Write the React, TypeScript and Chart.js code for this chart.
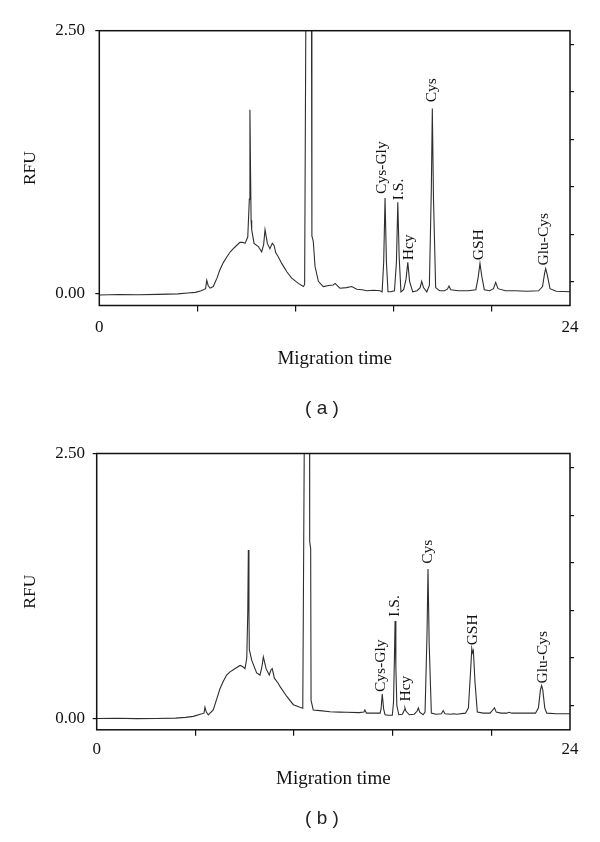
import React, { useEffect, useRef } from 'react';
import { Chart, registerables } from 'chart.js';

Chart.register(...registerables);

// ---------- Data ----------
const timeA = [0, 1.0, 2.0, 3.0, 4.0, 4.5, 4.9, 5.2, 5.42, 5.48, 5.55, 5.65, 5.81, 6.0, 6.15, 6.33, 6.5, 6.68, 6.83, 7.0, 7.17, 7.3, 7.43, 7.57, 7.65, 7.68, 7.71, 7.74, 7.77, 7.89, 8.11, 8.28, 8.38, 8.45, 8.57, 8.7, 8.82, 8.91, 9.0, 9.13, 9.3, 9.56, 9.81, 10.15, 10.41, 10.47, 10.55, 10.81, 10.84, 10.91, 11.0, 11.17, 11.42, 11.7, 11.93, 12.02, 12.27, 12.6, 12.87, 13.13, 13.4, 13.63, 14.0, 14.31, 14.42, 14.5, 14.57, 14.64, 14.72, 14.85, 15.05, 15.15, 15.22, 15.29, 15.38, 15.52, 15.64, 15.73, 15.82, 15.98, 16.2, 16.36, 16.44, 16.53, 16.7, 16.83, 16.93, 16.98, 17.04, 17.15, 17.35, 17.6, 17.75, 17.83, 17.92, 18.3, 18.8, 19.2, 19.32, 19.41, 19.5, 19.63, 19.9, 20.1, 20.21, 20.33, 20.7, 21.2, 21.8, 22.4, 22.6, 22.7, 22.76, 22.83, 22.98, 23.3, 24.0];
const rfuA = [-0.01, -0.005, -0.008, -0.004, 0.0, 0.008, 0.015, 0.03, 0.05, 0.13, 0.08, 0.055, 0.07, 0.15, 0.23, 0.30, 0.35, 0.40, 0.43, 0.46, 0.49, 0.49, 0.48, 0.54, 0.9, 1.75, 1.2, 0.7, 0.61, 0.48, 0.45, 0.40, 0.47, 0.61, 0.48, 0.43, 0.48, 0.46, 0.39, 0.35, 0.29, 0.21, 0.15, 0.10, 0.07, 0.09, 3.4, 3.4, 0.55, 0.50, 0.26, 0.12, 0.07, 0.08, 0.085, 0.10, 0.054, 0.06, 0.07, 0.045, 0.04, 0.03, 0.035, 0.03, 0.02, 0.3, 0.91, 0.3, 0.02, 0.02, 0.03, 0.3, 0.87, 0.35, 0.02, 0.04, 0.14, 0.30, 0.12, 0.02, 0.03, 0.06, 0.12, 0.06, 0.02, 0.08, 1.0, 1.76, 0.9, 0.06, 0.03, 0.03, 0.045, 0.076, 0.04, 0.03, 0.03, 0.04, 0.16, 0.29, 0.17, 0.04, 0.03, 0.05, 0.11, 0.05, 0.03, 0.03, 0.025, 0.03, 0.07, 0.19, 0.24, 0.19, 0.05, 0.025, 0.02];

const timeB = [0, 1.0, 2.0, 3.0, 4.0, 4.5, 4.9, 5.25, 5.44, 5.49, 5.56, 5.66, 5.91, 6.08, 6.25, 6.42, 6.59, 6.76, 6.93, 7.1, 7.27, 7.4, 7.52, 7.61, 7.66, 7.69, 7.72, 7.74, 7.86, 8.11, 8.28, 8.37, 8.45, 8.59, 8.75, 8.84, 8.9, 9.01, 9.21, 9.3, 9.63, 9.97, 10.31, 10.45, 10.55, 10.79, 10.8, 10.85, 10.87, 10.98, 11.32, 11.83, 12.3, 12.68, 13.3, 13.55, 13.6, 13.68, 13.86, 14.2, 14.37, 14.42, 14.48, 14.55, 14.62, 14.8, 14.99, 15.05, 15.1, 15.13, 15.17, 15.22, 15.32, 15.5, 15.6, 15.63, 15.68, 15.85, 16.1, 16.25, 16.31, 16.38, 16.55, 16.65, 16.75, 16.8, 16.86, 16.97, 17.2, 17.48, 17.57, 17.66, 17.95, 18.09, 18.25, 18.7, 18.85, 18.96, 19.02, 19.06, 19.1, 19.18, 19.3, 19.6, 19.95, 20.08, 20.17, 20.26, 20.5, 20.8, 20.91, 21.05, 21.6, 22.25, 22.4, 22.5, 22.56, 22.62, 22.72, 22.82, 23.3, 24.0];
const rfuB = [0.0, 0.002, -0.002, 0.0, 0.003, 0.01, 0.02, 0.04, 0.05, 0.105, 0.06, 0.033, 0.08, 0.18, 0.28, 0.35, 0.41, 0.44, 0.46, 0.48, 0.50, 0.49, 0.47, 0.57, 1.0, 1.59, 1.0, 0.65, 0.55, 0.43, 0.41, 0.48, 0.58, 0.47, 0.41, 0.46, 0.47, 0.38, 0.33, 0.30, 0.21, 0.13, 0.105, 0.096, 3.4, 3.4, 1.67, 1.6, 0.17, 0.08, 0.074, 0.064, 0.06, 0.058, 0.055, 0.06, 0.08, 0.05, 0.05, 0.05, 0.05, 0.09, 0.23, 0.09, 0.035, 0.03, 0.03, 0.15, 0.6, 0.92, 0.48, 0.12, 0.035, 0.04, 0.08, 0.10, 0.07, 0.035, 0.04, 0.07, 0.10, 0.06, 0.035, 0.06, 0.8, 1.41, 0.7, 0.05, 0.04, 0.045, 0.075, 0.045, 0.04, 0.045, 0.04, 0.05, 0.1, 0.45, 0.66, 0.62, 0.64, 0.35, 0.06, 0.05, 0.05, 0.08, 0.10, 0.06, 0.05, 0.05, 0.058, 0.05, 0.05, 0.05, 0.1, 0.27, 0.31, 0.27, 0.1, 0.05, 0.045, 0.045];

const peakNames = ['Cys-Gly', 'I.S.', 'Hcy', 'Cys', 'GSH', 'Glu-Cys'];
const peakLabelXA = [14.43, 15.26, 15.79, 16.94, 19.36, 22.68];
const peakLabelYA = [0.95, 0.89, 0.32, 1.82, 0.32, 0.27];
const peakLabelXB = [14.42, 15.1, 15.66, 16.8, 19.08, 22.63];
const peakLabelYB = [0.25, 0.96, 0.16, 1.46, 0.69, 0.33];

const xTickValues = [0, 5, 10, 15, 20, 24];
const xLabelValues = [0, 24];
const yTickValues = [0, 2.5];
const rightTickValues = [0, 1, 2, 3, 4, 5];

const SERIF = '"Liberation Serif", "Times New Roman", serif';
const SANS = '"Liberation Sans", Arial, sans-serif';
const INK = '#111';

function makeLabelPlugin(names: string[], xs: number[], ys: number[]) {
  return {
    id: 'peakLabels',
    afterDatasetsDraw(chart: any) {
      const { ctx, scales } = chart;
      ctx.save();
      ctx.fillStyle = INK;
      ctx.font = `15.5px ${SERIF}`;
      ctx.textAlign = 'left';
      ctx.textBaseline = 'middle';
      names.forEach((n, i) => {
        const px = scales.x.getPixelForValue(xs[i]);
        const py = scales.y.getPixelForValue(ys[i]);
        ctx.save();
        ctx.translate(px, py);
        ctx.rotate(-Math.PI / 2);
        ctx.fillText(n, 0, 0);
        ctx.restore();
      });
      ctx.restore();
    },
  };
}

const framePlugin = {
  id: 'frame',
  afterDraw(chart: any) {
    const { ctx, chartArea: a } = chart;
    ctx.save();
    ctx.strokeStyle = INK;
    ctx.lineWidth = 1.5;
    ctx.strokeRect(a.left, a.top, a.right - a.left, a.bottom - a.top);
    ctx.restore();
  },
};

type PanelProps = {
  top: number;
  h: number;
  time: number[];
  rfu: number[];
  lx: number[];
  ly: number[];
  padTop: number;
  padBottom: number;
  leftW: number;
  xAxisH: number;
  xPad: number;
  yPad: number;
  yMin: number;
  y2Min: number;
  y2Max: number;
};

function Panel(p: PanelProps) {
  const ref = useRef<HTMLCanvasElement>(null);
  useEffect(() => {
    const chart = new Chart(ref.current as HTMLCanvasElement, {
      type: 'line',
      data: {
        datasets: [
          {
            data: p.time.map((t, i) => ({ x: t, y: p.rfu[i] })),
            borderColor: '#2e2e2e',
            borderWidth: 1.1,
            pointRadius: 0,
            tension: 0,
            fill: false,
            yAxisID: 'y',
            xAxisID: 'x',
          },
        ],
      },
      options: {
        animation: false,
        responsive: false,
        devicePixelRatio: 1,
        events: [],
        layout: { padding: { top: p.padTop, bottom: p.padBottom, left: 0, right: 0 } },
        plugins: { legend: { display: false }, tooltip: { enabled: false }, title: { display: false } },
        scales: {
          x: {
            type: 'linear',
            position: 'bottom',
            min: 0,
            max: 24,
            afterBuildTicks: (s: any) => {
              s.ticks = xTickValues.map((v) => ({ value: v }));
            },
            afterFit: (s: any) => {
              s.height = p.xAxisH;
            },
            ticks: {
              autoSkip: false,
              maxRotation: 0,
              padding: p.xPad,
              color: INK,
              font: { family: SERIF, size: 17 },
              callback: (v: any) => (xLabelValues.includes(Number(v)) ? String(v) : ''),
            },
            grid: {
              drawOnChartArea: false,
              drawTicks: true,
              tickLength: 6,
              lineWidth: 1.2,
              color: (c: any) => (c.tick && xLabelValues.includes(c.tick.value) ? 'rgba(0,0,0,0)' : INK),
            },
            border: { display: false },
            title: {
              display: true,
              text: 'Migration time',
              color: INK,
              font: { family: SERIF, size: 19 },
              padding: { top: 0, bottom: 0 },
            },
          },
          y: {
            type: 'linear',
            position: 'left',
            min: p.yMin,
            max: 2.5,
            afterBuildTicks: (s: any) => {
              s.ticks = yTickValues.map((v) => ({ value: v }));
            },
            afterFit: (s: any) => {
              s.width = p.leftW;
            },
            ticks: {
              padding: p.yPad,
              color: INK,
              font: { family: SERIF, size: 17 },
              callback: (v: any) => Number(v).toFixed(2),
            },
            grid: { drawOnChartArea: false, drawTicks: true, tickLength: 4, lineWidth: 1.2, color: INK },
            border: { display: false },
            title: {
              display: true,
              text: 'RFU',
              color: INK,
              font: { family: SERIF, size: 17.5 },
              padding: { top: 20.1, bottom: 0 },
            },
          },
          y2: {
            type: 'linear',
            position: 'right',
            min: p.y2Min,
            max: p.y2Max,
            afterBuildTicks: (s: any) => {
              s.ticks = rightTickValues.map((v) => ({ value: v }));
            },
            afterFit: (s: any) => {
              s.width = 30;
            },
            ticks: { display: false },
            grid: { drawOnChartArea: false, drawTicks: true, tickLength: 4, lineWidth: 1.2, color: INK },
            border: { display: false },
          },
        },
      } as any,
      plugins: [framePlugin, makeLabelPlugin(peakNames, p.lx, p.ly)],
    });
    return () => chart.destroy();
  }, []);
  return (
    <canvas
      ref={ref}
      width={600}
      height={p.h}
      style={{ position: 'absolute', left: 0, top: p.top, width: 600, height: p.h, display: 'block' }}
    />
  );
}

function Caption({ text, y }: { text: string; y: number }) {
  return (
    <div
      style={{
        position: 'absolute',
        left: 322,
        top: y,
        transform: 'translate(-50%, -50%)',
        font: `19px ${SANS}`,
        color: '#222',
        whiteSpace: 'pre',
        lineHeight: 1,
      }}
    >
      {text}
    </div>
  );
}

export default function App() {
  return (
    <div style={{ position: 'fixed', left: 0, top: 0, width: 600, height: 842, background: '#fff', overflow: 'hidden' }}>
      <Panel
        top={0}
        h={420}
        time={timeA}
        rfu={rfuA}
        lx={peakLabelXA}
        ly={peakLabelYA}
        padTop={30.7}
        padBottom={49.3}
        leftW={99.3}
        xAxisH={65.2}
        xPad={6.3}
        yPad={10.3}
        yMin={-0.11}
        y2Min={-0.5}
        y2Max={5.29}
      />
      <Caption text="( a )" y={407} />
      <Panel
        top={420}
        h={422}
        time={timeB}
        rfu={rfuB}
        lx={peakLabelXB}
        ly={peakLabelYB}
        padTop={33.5}
        padBottom={51.3}
        leftW={96.7}
        xAxisH={60.9}
        xPad={4}
        yPad={7.7}
        yMin={-0.107}
        y2Min={-0.51}
        y2Max={5.3}
      />
      <Caption text="( b )" y={817} />
    </div>
  );
}
